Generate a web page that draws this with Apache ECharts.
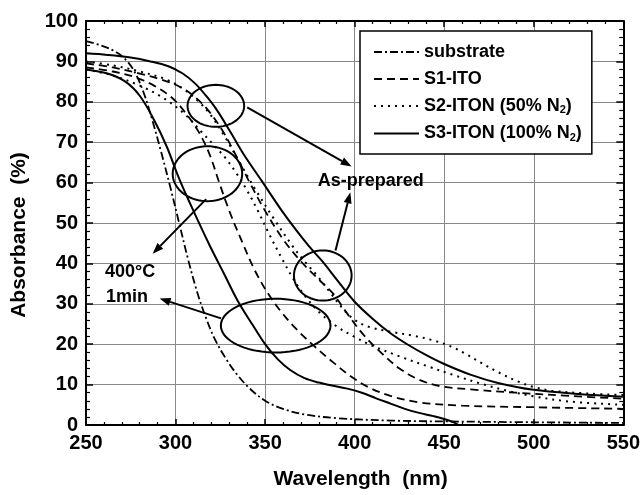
<!DOCTYPE html>
<html>
  <head>
    <meta charset="utf-8" />
    <title>Absorbance</title>
    <style>
      * {
        margin: 0;
        padding: 0;
      }
      #chart-container {
        width: 643px;
        height: 495px;
        background: #fff;
      }
    </style>
  </head>
  <body>
    <div id="chart-container"></div>
    <script src="https://cdn.jsdelivr.net/npm/echarts@6/dist/echarts.min.js"></script>
    <script>
      // tick values
      var xTicks = { min: 250, max: 550, step: 50 };
      var yTicks = { min: 0, max: 100, step: 10 };

      // legend names
      var names = ["substrate", "S1-ITO", "S2-ITON (50% N2)", "S3-ITON (100% N2)"];

      // curves [wavelength nm, absorbance %]
      var substrate = [[250,95],[258,94],[266,92.5],[272,90.5],[277,87.5],[282,82.5],[287,75.5],[292,67.5],[297,59],[302,50],[307,41],[312,33],[317,26.5],[322,21.2],[328,16.5],[334,12.7],[341,9.2],[350,6],[360,4],[372,2.6],[390,1.7],[420,1.1],[470,0.8],[550,0.5]];
      var s1Asp = [[250,89.5],[265,88.5],[280,87],[292,85.5],[302,83.8],[310,81.5],[318,78],[326,73],[334,66.5],[342,59.5],[350,53],[360,46],[370,40.5],[380,36],[388,32.5],[396,27.5],[405,22.3],[415,17.8],[425,14],[436,11.2],[448,9.6],[465,8.8],[490,8],[520,7.2],[550,6.5]];
      var s1Ann = [[250,88.5],[265,87.5],[278,86],[288,84],[298,81],[306,77],[313,72.5],[319,67],[324,60.5],[330,53],[337,45.5],[344,38.5],[351,33],[359,28],[368,23.5],[378,19.3],[388,15.5],[398,12],[408,9.3],[420,7.2],[436,5.6],[460,4.8],[500,4.4],[550,4]];
      var s2Asp = [[250,90],[265,89],[280,87.5],[295,85.5],[305,83],[313,80],[320,76.5],[328,71],[336,64.8],[345,58],[355,51],[365,44.5],[372,40.5],[379,37],[386,33],[393,29],[400,26],[408,24.3],[420,23.1],[434,22],[445,20.8],[454,19.4],[462,17.6],[471,15.3],[480,13.1],[491,10.8],[500,9.4],[510,8.5],[530,7.8],[550,7.4]];
      var s2Ann = [[250,88],[265,86.5],[280,84],[293,81],[305,77],[315,72.3],[322,69],[328,66],[334,62.3],[340,58],[346,53],[352,47.5],[359,41.5],[366,36],[373,31.5],[381,27.6],[390,24.4],[400,21.8],[410,19.6],[425,17],[441,14.5],[455,12.4],[470,10.3],[485,8.5],[500,7.1],[520,5.8],[550,5]];
      var s3Asp = [[250,92],[262,91.6],[274,91],[286,90],[296,88.8],[304,87],[311,84.5],[317,81.5],[323,78],[330,73],[338,67],[348,60.5],[361,52],[374,44.5],[382,40.5],[390,36],[400,30.5],[410,26.3],[420,22.7],[430,19.8],[440,17.3],[450,15.1],[465,12.4],[480,10.4],[500,8.7],[525,7.7],[550,7]];
      var s3Ann = [[250,88],[262,87],[272,85],[280,81.5],[288,75.5],[295,69],[302,61],[310,53],[319,44.5],[327,37.5],[335,30.5],[343,24.8],[350,20],[357,16.3],[364,13.6],[372,11.6],[380,10.5],[388,9.7],[396,9],[404,8],[412,6.6],[420,5.3],[428,4],[436,3],[444,2.2],[450,1.5],[455,0.7],[458,0]];

      // annotations in data units
      var ellipses = [[322.5,79,15.8,5.2],[317.8,62.2,19.4,6.8],[382.2,37,16.1,6.2],[355.9,24.6,30.6,6.65]];
      var arrows = [[340,78.6,398.3,64],[389.3,43.2,397.6,57.6],[317.1,55.9,287.2,42.4],[325.4,26.4,291.1,31.3]];
      var notePos = [[379.4,60.3],[260.6,37.8],[261.1,31.6]];
      var noteText = ["As-prepared", "400°C", "1min"];

      var FONT = "'Liberation Sans', Arial, sans-serif";
      var dashDot = [8, 3, 2, 3];
      var dashed = [8, 5];
      var dotted = [2, 5];

      var dom = document.getElementById("chart-container");
      var myChart = echarts.init(dom, null, { renderer: "canvas" });

      function curve(name, data, type, w) {
        return {
          name: name,
          type: "line",
          data: data,
          symbol: "none",
          smooth: 0.35,
          lineStyle: { color: "#000", width: w || 1.8, type: type },
          itemStyle: { color: "#000" },
          z: 3,
        };
      }

      function axisX(pos, showLabel) {
        return {
          type: "value",
          position: pos,
          min: xTicks.min,
          max: xTicks.max,
          interval: xTicks.step,
          name: showLabel ? "Wavelength  (nm)" : "",
          nameLocation: "middle",
          nameGap: 44,
          nameTextStyle: { fontFamily: FONT, fontSize: 21, fontWeight: "bold", color: "#000", padding: [0, 0, 0, 12] },
          axisLine: { show: true, onZero: false, lineStyle: { color: "#000", width: 2 } },
          axisTick: { show: true, inside: true, length: 6, lineStyle: { color: "#000", width: 1.5 } },
          minorTick: { show: true, splitNumber: 5, length: 3, lineStyle: { color: "#000", width: 1.2 } },
          axisLabel: { show: showLabel, margin: 8, fontFamily: FONT, fontSize: 20, fontWeight: "bold", color: "#000" },
          splitLine: { show: showLabel, lineStyle: { color: "#888", width: 1 } },
        };
      }

      function axisY(pos, showLabel) {
        return {
          type: "value",
          position: pos,
          min: yTicks.min,
          max: yTicks.max,
          interval: yTicks.step,
          name: showLabel ? "Absorbance  (%)" : "",
          nameLocation: "middle",
          nameGap: 56,
          nameTextStyle: { fontFamily: FONT, fontSize: 21, fontWeight: "bold", color: "#000", padding: [0, 24, 0, 0] },
          axisLine: { show: true, onZero: false, lineStyle: { color: "#000", width: 2 } },
          axisTick: { show: true, inside: true, length: 7, lineStyle: { color: "#000", width: 1.5 } },
          minorTick: { show: true, splitNumber: 5, length: 4, lineStyle: { color: "#000", width: 1.2 } },
          axisLabel: { show: showLabel, margin: 8, fontFamily: FONT, fontSize: 20, fontWeight: "bold", color: "#000" },
          splitLine: { show: showLabel, lineStyle: { color: "#888", width: 1 } },
        };
      }

      var option = {
        animation: false,
        backgroundColor: "#fff",
        grid: { left: 86, right: 17, top: 21, bottom: 68, containLabel: false },
        xAxis: [axisX("bottom", true), axisX("top", false)],
        yAxis: [axisY("left", true), axisY("right", false)],
        legend: {
          data: names,
          orient: "vertical",
          left: 360,
          top: 31,
          padding: [12, 10, 11, 13],
          itemGap: 9,
          itemWidth: 45,
          itemHeight: 14,
          backgroundColor: "#fff",
          borderColor: "#000",
          borderWidth: 1.5,
          borderRadius: 0,
          itemStyle: { opacity: 0 },
          formatter: function (n) {
            return n.replace(" N2)", " N{sub|2})");
          },
          textStyle: {
            fontFamily: FONT,
            fontSize: 18,
            fontWeight: "bold",
            color: "#000",
            rich: {
              sub: { fontFamily: FONT, fontSize: 11, fontWeight: "bold", color: "#000", verticalAlign: "bottom", padding: [8, 0, 0, 0] },
            },
          },
        },
        series: [
          curve(names[0], substrate, dashDot),
          curve(names[1], s1Asp, dashed),
          curve(names[1], s1Ann, dashed),
          curve(names[2], s2Asp, dotted, 2),
          curve(names[2], s2Ann, dotted, 2),
          curve(names[3], s3Asp, "solid", 2),
          curve(names[3], s3Ann, "solid", 2),
          {
            type: "custom",
            name: "ellipses",
            silent: true,
            z: 4,
            data: ellipses,
            renderItem: function (params, api) {
              var c = api.coord([api.value(0), api.value(1)]);
              var r = api.size([api.value(2), api.value(3)]);
              var pts = [];
              for (var i = 0; i < 72; i++) {
                var t = (i / 72) * Math.PI * 2;
                pts.push([c[0] + r[0] * Math.cos(t), c[1] + r[1] * Math.sin(t)]);
              }
              return { type: "polygon", shape: { points: pts }, style: { fill: "none", stroke: "#000", lineWidth: 2 } };
            },
          },
          {
            type: "custom",
            name: "arrows",
            silent: true,
            z: 4,
            data: arrows,
            renderItem: function (params, api) {
              var a = api.coord([api.value(0), api.value(1)]);
              var b = api.coord([api.value(2), api.value(3)]);
              var ang = Math.atan2(b[1] - a[1], b[0] - a[0]);
              var L = 11, W = 4;
              var bx = b[0] - L * Math.cos(ang), by = b[1] - L * Math.sin(ang);
              var nx = -Math.sin(ang) * W, ny = Math.cos(ang) * W;
              return {
                type: "group",
                children: [
                  { type: "line", shape: { x1: a[0], y1: a[1], x2: bx, y2: by }, style: { stroke: "#000", lineWidth: 2 } },
                  { type: "polygon", shape: { points: [[b[0], b[1]], [bx + nx, by + ny], [bx - nx, by - ny]] }, style: { fill: "#000" } },
                ],
              };
            },
          },
          {
            type: "custom",
            name: "notes",
            silent: true,
            z: 5,
            data: notePos,
            renderItem: function (params, api) {
              var p = api.coord([api.value(0), api.value(1)]);
              return {
                type: "text",
                x: p[0],
                y: p[1],
                style: {
                  text: noteText[params.dataIndex],
                  fontFamily: FONT,
                  fontSize: 18,
                  fontWeight: "bold",
                  fill: "#000",
                  align: "left",
                  verticalAlign: "middle",
                },
              };
            },
          },
        ],
      };

      myChart.setOption(option);
      window.addEventListener("resize", myChart.resize);
    </script>
  </body>
</html>
